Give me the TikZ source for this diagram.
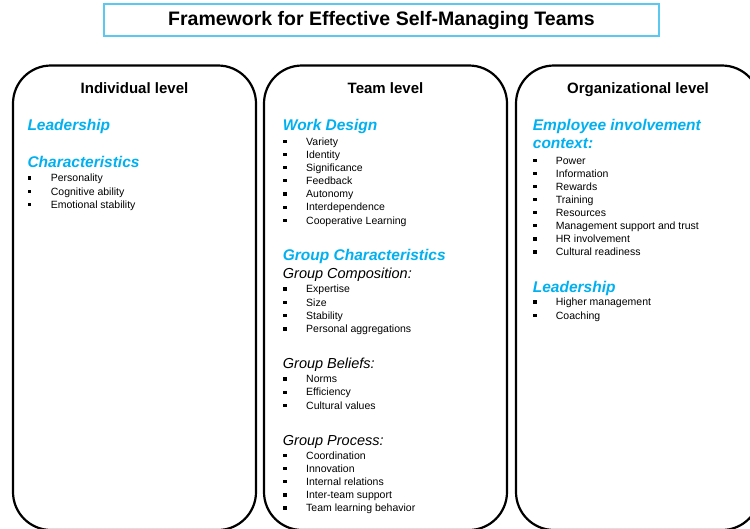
\documentclass[tikz,border=0pt]{standalone}
\usepackage{fontspec}
\setmainfont{Liberation Sans}
\definecolor{headblue}{RGB}{0,176,240}
\definecolor{framecyan}{RGB}{90,200,240}

\begin{document}
\begin{tikzpicture}
	[x=1pt,y=-1pt,
	 level/.style={draw,line width=2.2pt,rounded corners=38pt},
	 title/.style={draw=framecyan,line width=1.2pt,minimum width=555pt,minimum height=32pt,font=\bfseries\fontsize{19.5}{21}\selectfont},
	 head/.style={anchor=base,inner sep=0,font=\bfseries\fontsize{15}{17}\selectfont},
	 topic/.style={anchor=base west,inner sep=0,text=headblue,font=\bfseries\itshape\fontsize{15.5}{17}\selectfont},
	 sub/.style={anchor=base west,inner sep=0,font=\itshape\fontsize{14.5}{17}\selectfont},
	 item/.style={anchor=base west,inner sep=0,font=\fontsize{10.5}{12}\selectfont},
	 dot/.style={fill,inner sep=0,minimum size=3.2pt}]

	\path [use as bounding box] (0,0) rectangle (750,528);
	\clip (0,0) rectangle (750,528);

	\node[title] (frame) at (381.5,20) {Framework for Effective Self-Managing Teams};

	% the three levels
	\draw[level] (13,65.5)  rectangle (256,530);
	\draw[level] (264,65.5) rectangle (507,530);
	\draw[level] (516,65.5) rectangle (760,530);

	\node[head] (indiv) at (134.5,93) {Individual level};
	\node[head] (team)  at (385.5,93) {Team level};
	\node[head] (org)   at (638,93)   {Organizational level};

	% individual level
	\node[topic] (lead)  at (27.3,130.7) {Leadership};
	\node[topic] (chars) at (27.3,167.5) {Characteristics};
	\foreach \txt [count=\i from 0] in {Personality,Cognitive ability,Emotional stability}
	  {\node[dot] (chdot\i) at (29.5,178+13.4*\i) {};
	   \node[item] (ch\i) at (50.7,181.7+13.4*\i) {\txt};}

	% team level
	\node[topic] (work) at (282.7,130.7) {Work Design};
	\foreach \txt [count=\i from 0] in {Variety,Identity,Significance,Feedback,Autonomy,Interdependence,Cooperative Learning}
	  {\node[dot] (wddot\i) at (285,141.3+13.17*\i) {};
	   \node[item] (wd\i) at (306,145+13.17*\i) {\txt};}

	\node[topic] (group) at (282.7,260)   {Group Characteristics};
	\node[sub]   (comp)  at (282.7,278.3) {Group Composition:};
	\foreach \txt [count=\i from 0] in {Expertise,Size,Stability,Personal aggregations}
	  {\node[dot] (gcdot\i) at (285,289+13.3*\i) {};
	   \node[item] (gc\i) at (306,292.7+13.3*\i) {\txt};}

	\node[sub] (belief) at (282.7,368.3) {Group Beliefs:};
	\foreach \txt [count=\i from 0] in {Norms,Efficiency,Cultural values}
	  {\node[dot] (gbdot\i) at (285,379+13.2*\i) {};
	   \node[item] (gb\i) at (306,382.7+13.2*\i) {\txt};}

	\node[sub] (proc) at (282.7,445) {Group Process:};
	\foreach \txt [count=\i from 0] in {Coordination,Innovation,Internal relations,Inter-team support,Team learning behavior}
	  {\node[dot] (gpdot\i) at (285,455.6+13.1*\i) {};
	   \node[item] (gp\i) at (306,459.3+13.1*\i) {\txt};}

	% organizational level
	\node[topic] (involve) at (532.7,130.7) {Employee involvement};
	\node[topic] (context) at (532.7,148.3) {context:};
	\foreach \txt [count=\i from 0] in {Power,Information,Rewards,Training,Resources,Management support and trust,HR involvement,Cultural readiness}
	  {\node[dot] (eidot\i) at (535,160.3+13.1*\i) {};
	   \node[item] (ei\i) at (555.7,164+13.1*\i) {\txt};}

	\node[topic] (orglead) at (532.7,292.7) {Leadership};
	\foreach \txt [count=\i from 0] in {Higher management,Coaching}
	  {\node[dot] (oldot\i) at (535,302+13.3*\i) {};
	   \node[item] (ol\i) at (555.7,305.7+13.3*\i) {\txt};}
\end{tikzpicture}
\end{document}
